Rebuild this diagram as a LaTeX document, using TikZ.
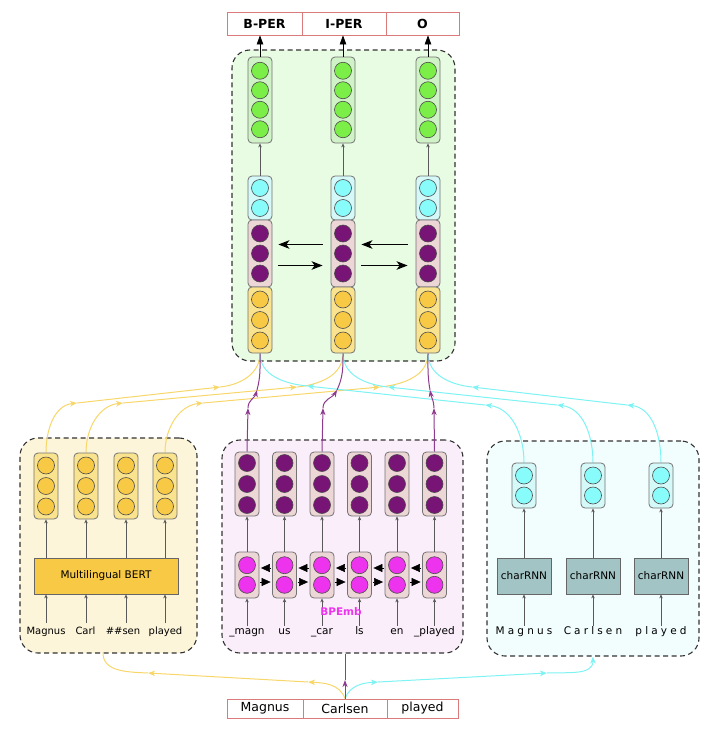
\documentclass[tikz,border=0pt]{standalone}
\usepackage{fontspec}
\setmainfont{DejaVu Sans}
\setsansfont{DejaVu Sans}
\newfontfamily\spacedfont[LetterSpace=30]{DejaVu Sans}
\usetikzlibrary{arrows.meta,calc}
\pgfdeclarelayer{bg}
\pgfdeclarelayer{mid}
\pgfsetlayers{bg,mid,main}
\definecolor{grnC}{HTML}{7CEE48}
\definecolor{grnB}{HTML}{CFF3C6}
\definecolor{grnP}{HTML}{E8FBE3}
\definecolor{cyaC}{HTML}{88FBFB}
\definecolor{cyaB}{HTML}{D5F9F9}
\definecolor{cyaP}{HTML}{F2FDFD}
\definecolor{purC}{HTML}{771475}
\definecolor{purB}{HTML}{EDD6D6}
\definecolor{magC}{HTML}{EE33EE}
\definecolor{magP}{HTML}{FBEEFB}
\definecolor{yelC}{HTML}{F8C944}
\definecolor{yelB}{HTML}{FAE38E}
\definecolor{yelP}{HTML}{FDF5DA}
\definecolor{rnnB}{HTML}{A2C4C4}
\definecolor{lblR}{HTML}{DA7A7A}
\definecolor{yelL}{HTML}{F7D66A}
\definecolor{cyaL}{HTML}{7EF3F3}
\definecolor{purL}{HTML}{8E3A8E}
\begin{document}
\begin{tikzpicture}[x=1pt,y=1pt,
  font=\fontsize{10.5}{12}\selectfont,
  col/.style={draw=black!55, rounded corners=4pt, minimum width=24pt, inner sep=0pt, line width=0.8pt},
  circ/.style={circle, draw=black!70, minimum size=17pt, inner sep=0pt, line width=0.6pt},
  panel/.style={draw=black!80, dash pattern=on 5pt off 3.5pt, rounded corners=18pt, line width=1.1pt, inner sep=0pt},
  inarr/.style={draw=black!65, line width=0.6pt, -{Stealth[length=4pt,width=3.5pt]}},
  toparr/.style={draw=black, line width=0.6pt, -{Triangle[length=9pt,width=6.5pt]}},
  harr/.style={draw=black, line width=1.3pt, -{Stealth[length=11pt,width=8.5pt,inset=3pt]}},
  latarr/.style={draw=black, line width=0.5pt, -{Triangle[length=9pt,width=8pt]}},
  lbl/.style={draw=lblR, line width=0.8pt, inner sep=0pt, fill=white},
  word/.style={inner sep=1pt, text height=8pt, text depth=2.5pt},
  sqbox/.style={draw=black!60, line width=0.8pt, inner sep=0pt},
  yconn/.style={draw=yelL, line width=1pt},
  yarr/.style={yconn, -{Stealth[length=7pt,width=5.5pt,inset=2pt]}},
  cconn/.style={draw=cyaL, line width=1pt},
  carr/.style={cconn, -{Stealth[length=7pt,width=5.5pt,inset=2pt]}},
  pconn/.style={draw=purL, line width=1pt},
  parr/.style={pconn, -{Stealth[length=7pt,width=5pt,inset=2pt]}},
]
\path[use as bounding box] (0,0) rectangle (720,-731);

% ---------- panels ----------
\begin{pgfonlayer}{bg}
\node[panel, fill=grnP, minimum width=223pt, minimum height=311pt] (topP) at (343.5,-205.5) {};
\node[panel, fill=yelP, minimum width=177pt, minimum height=215pt] (bertP) at (108.5,-545.5) {};
\node[panel, fill=magP, minimum width=241pt, minimum height=213pt] (bpeP) at (342.5,-546.5) {};
\node[panel, fill=cyaP, minimum width=212pt, minimum height=215pt] (rnnP) at (593,-548.5) {};
\end{pgfonlayer}

% ---------- top labels ----------
\node[lbl, minimum width=75pt, minimum height=23pt, font=\bfseries\fontsize{12.5}{14}\selectfont] (lab1) at (264.5,-23.5) {B-PER};
\node[lbl, minimum width=84pt, minimum height=23pt, font=\bfseries\fontsize{12.5}{14}\selectfont] (lab2) at (344,-23.5) {I-PER};
\node[lbl, minimum width=73pt, minimum height=23pt, font=\bfseries\fontsize{12.5}{14}\selectfont] (lab3) at (422.5,-23.5) {O};

% ---------- top columns ----------
\foreach \i/\x in {1/260,2/343,3/428}{
  \node[col, fill=grnB, minimum height=86pt] (g\i) at (\x,-100) {};
  \foreach \kk/\dd in {1/29.25,2/9.75,3/-9.75,4/-29.25}
    \node[circ, fill=grnC] (g\i-\kk) at (\x,{-100+(\dd)}) {};
  \node[col, fill=cyaB, minimum height=44pt] (c\i) at (\x,-198) {};
  \foreach \kk/\dd in {1/10,2/-10}
    \node[circ, fill=cyaC] (c\i-\kk) at (\x,{-198+(\dd)}) {};
  \node[col, fill=purB, minimum height=67pt] (p\i) at (\x,-253.5) {};
  \foreach \kk/\dd in {1/20,2/0,3/-20}
    \node[circ, fill=purC] (p\i-\kk) at (\x,{-253.5+(\dd)}) {};
  \node[col, fill=yelB, minimum height=66pt] (y\i) at (\x,-320) {};
  \foreach \kk/\dd in {1/20.5,2/0,3/-20.5}
    \node[circ, fill=yelC] (y\i-\kk) at (\x,{-320+(\dd)}) {};
  \draw[inarr] (c\i.north) -- (g\i.south);
  \draw[toparr] (g\i.north) -- (g\i.north |- lab\i.south);
}
\draw[harr] ($(p2.west)+(-8,9)$) -- ($(p1.east)+(6,9)$);
\draw[harr] ($(p1.east)+(6,-12)$) -- ($(p2.west)+(-8,-12)$);
\draw[harr] ($(p3.west)+(-8,9)$) -- ($(p2.east)+(6,9)$);
\draw[harr] ($(p2.east)+(6,-12)$) -- ($(p3.west)+(-8,-12)$);

% ---------- BERT panel ----------
\node[sqbox, fill=yelC, minimum width=144pt, minimum height=36pt] (bert) at (106,-576) {Multilingual BERT};
\foreach \i/\x/\tx/\w in {1/46/46/Magnus,2/86/85.5/Carl,3/126/123/\#\#sen,4/165/165.5/played}{
  \node[col, fill=yelB, minimum height=66pt] (b\i) at (\x,-486) {};
  \foreach \kk/\dd in {1/20.5,2/0,3/-20.5}
    \node[circ, fill=yelC] (b\i-\kk) at (\x,{-486+(\dd)}) {};
  \node[word, font=\fontsize{10}{12}\selectfont] (bw\i) at (\tx,-632) {\w};
  \draw[inarr] (\x,-623) -- (\x,-576 |- bert.south);
  \draw[inarr] (b\i.south |- bert.north) -- (b\i.south);
}

% ---------- BPEmb panel ----------
\foreach \i/\x/\w in {1/247/\_magn,2/284.5/us,3/322/\_car,4/359.5/ls,5/397/en,6/434.5/\_played}{
  \node[col, fill=purB, minimum height=64pt] (u\i) at (\x,-484) {};
  \foreach \kk/\dd in {1/21,2/0,3/-21}
    \node[circ, fill=purC] (u\i-\kk) at (\x,{-484+(\dd)}) {};
  \node[col, fill=purB, minimum height=46pt] (l\i) at (\x,-575) {};
  \foreach \kk/\dd in {1/9.8,2/-9.8}
    \node[circ, fill=magC] (l\i-\kk) at (\x,{-575+(\dd)}) {};
  \node[word] (pw\i) at (\x,-632) {\w};
  \draw[inarr] (pw\i.north) -- (l\i.south);
  \draw[inarr] (l\i.north) -- (u\i.south);
}
\foreach \i/\j in {1/2,2/3,3/4,4/5,5/6}{
  \draw[latarr, shorten <=1pt, shorten >=1.5pt] ($(l\j.west)+(0,7)$) -- ($(l\i.east)+(0,7)$);
  \draw[latarr, shorten <=1pt, shorten >=1.5pt] ($(l\i.east)+(0,-7)$) -- ($(l\j.west)+(0,-7)$);
}
\node[text=magC, font=\bfseries\fontsize{10.5}{12}\selectfont] (bpelab) at (341,-612) {BPEmb};

% ---------- charRNN panel ----------
\foreach \i/\x/\w in {1/524/Magnus,2/593/Carlsen,3/661/played}{
  \node[col, fill=cyaB, minimum height=45pt] (cc\i) at (\x,-485.5) {};
  \foreach \kk/\dd in {1/10,2/-10}
    \node[circ, fill=cyaC] (cc\i-\kk) at (\x,{-485.5+(\dd)}) {};
  \node[sqbox, fill=rnnB, minimum width=54pt, minimum height=36pt] (r\i) at (\x,-576) {charRNN};
  \node[word, font=\spacedfont\fontsize{10.5}{12}\selectfont] (rw\i) at (\x,-632) {\w};
  \draw[inarr] (rw\i.north) -- (r\i.south);
  \draw[inarr] (r\i.north) -- (cc\i.south);
}

% ---------- input words ----------
\node[lbl, minimum width=76pt, minimum height=19pt, font=\fontsize{12.5}{14}\selectfont] (in1) at (265,-708.5) {Magnus};
\node[lbl, minimum width=84pt, minimum height=19pt, font=\fontsize{12.5}{14}\selectfont] (in2) at (345,-708.5) {Carlsen};
\node[lbl, minimum width=71pt, minimum height=19pt, font=\fontsize{12.5}{14}\selectfont] (in3) at (422.5,-708.5) {played};

% ---------- connectors ----------
\begin{pgfonlayer}{mid}
\coordinate (ya1) at (77,-403);  \coordinate (yb1) at (220,-387);
\coordinate (ya2) at (123,-403); \coordinate (yb2) at (297,-387);
\coordinate (ya3) at (203,-403); \coordinate (yb3) at (380,-387);
\foreach \s/\t in {1/1,2/2,4/3}{
  \draw[yarr] (b\s.north) to[out=90,in=186] (ya\t);
  \draw[yarr] (ya\t) -- (yb\t);
  \draw[yconn] (yb\t) to[out=6,in=-90] (y\t.south);
}
\coordinate (ca1) at (485,-405); \coordinate (cb1) at (307,-386);
\coordinate (ca2) at (557,-405); \coordinate (cb2) at (388,-387);
\coordinate (ca3) at (627,-405); \coordinate (cb3) at (472,-387);
\foreach \t in {1,2,3}{
  \draw[carr] (cc\t.north) to[out=90,in=-6] (ca\t);
  \draw[carr] (ca\t) -- (cb\t);
  \draw[cconn] (cb\t) to[out=174,in=-90] (y\t.south);
}
\coordinate (pa1) at (248,-408); \coordinate (pb1) at (257,-390);
\coordinate (pa2) at (323,-408); \coordinate (pb2) at (337,-390);
\coordinate (pa3) at (434,-408); \coordinate (pb3) at (430,-390);
\foreach \s/\t/\ii/\oo in {1/1/-105/75,3/2/-120/65,6/3/-80/100}{
  \draw[parr] (u\s.north) -- (pa\t);
  \draw[parr] (pa\t) to[out=90,in=\ii] (pb\t);
  \draw[pconn] (pb\t) to[out=\oo,in=-90] (y\t.south);
}
% bottom
\coordinate (yw1) at (308,-682); \coordinate (yw2) at (148,-673);
\coordinate (yend) at (103,-653);
\draw[yarr] (in2.north) to[out=110,in=-3] (yw1);
\draw[yarr] (yw1) -- (yw2);
\draw[yconn] (yw2) to[out=177,in=-90] (yend);
\coordinate (cw1) at (378,-682); \coordinate (cw2) at (547,-673);
\draw[carr] (in2.north) to[out=70,in=183] (cw1);
\draw[carr] (cw1) -- (cw2);
\draw[carr] (cw2) to[out=3,in=-90] (rnnP.south);
\coordinate (pw) at (in2.north |- 0,-680);
\draw[parr] (in2.north) -- (pw);
\draw[pconn] (pw) -- (in2.north |- bpeP.south);
\end{pgfonlayer}
\end{tikzpicture}
\end{document}
